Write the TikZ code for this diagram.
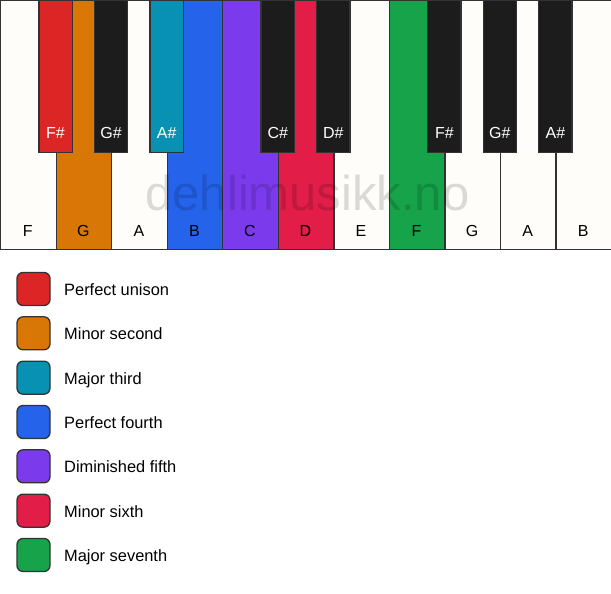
\documentclass[tikz,border=0pt]{standalone}
\usepackage{fontspec}
\setmainfont{Liberation Sans}
\definecolor{keyline}{HTML}{333333}
\definecolor{ivory}{HTML}{FEFDF9}
\definecolor{ebony}{HTML}{1C1C1C}
\definecolor{unison}{HTML}{DC2626}
\definecolor{second}{HTML}{D97706}
\definecolor{third}{HTML}{0891B2}
\definecolor{fourth}{HTML}{2563EB}
\definecolor{fifth}{HTML}{7C3AED}
\definecolor{sixth}{HTML}{E11D48}
\definecolor{seventh}{HTML}{16A34A}
\tikzset{font={\fontsize{16pt}{19pt}\selectfont},
  whitekey/.style={draw=keyline, line width=1.3pt, minimum width=55.545pt,
    minimum height=249pt, inner sep=0pt, anchor=north west},
  blackkey/.style={draw=keyline, line width=1.3pt, minimum width=33.3pt,
    minimum height=152pt, inner sep=0pt, anchor=north},
  swatch/.style={draw=keyline, line width=1.3pt, rounded corners=6pt,
    minimum size=33pt, inner sep=0pt}}

\begin{document}
\begin{tikzpicture}[x=1pt, y=-1pt]
      \useasboundingbox (0,0) rectangle (611,594);
      %white keys
      \foreach \n/\c [count=\i from 0] in {F/ivory, G/second, A/ivory, B/fourth,
          C/fifth, D/sixth, E/ivory, F/seventh, G/ivory, A/ivory, B/ivory}
	\node[whitekey, fill=\c] (w\i) at (\i*55.545,0) {};
      \foreach \n [count=\i from 0] in {F, G, A, B, C, D, E, F, G, A, B}
	\node[anchor=base, inner sep=0pt] (wl\i) at (\i*55.545+27.77,236) {\n};
      %black keys
      \foreach \n/\c/\k in {F\#/unison/1, G\#/ebony/2, A\#/third/3, C\#/ebony/5,
          D\#/ebony/6, F\#/ebony/8, G\#/ebony/9, A\#/ebony/10}
	{\node[blackkey, fill=\c] (b\k) at (\k*55.545,0) {};
	\node[anchor=base, inner sep=0pt, text=white] (bl\k) at (\k*55.545,139) {\n};}
      %watermark
      \node[anchor=base, inner sep=0pt, text opacity=0.14,
        font={\fontsize{49pt}{50pt}\selectfont}] (mark) at (307.5,210) {dehlimusikk.no};
      %legend
      \foreach \c/\t [count=\i from 0] in {unison/Perfect unison, second/Minor second,
          third/Major third, fourth/Perfect fourth, fifth/Diminished fifth,
          sixth/Minor sixth, seventh/Major seventh}
	{\node[swatch, fill=\c] (s\i) at (33.5,289+44.33*\i) {};
	\node[anchor=base west, inner sep=0pt, font={\fontsize{16.4pt}{19pt}\selectfont}]
	  (t\i) at (64,295.5+44.33*\i) {\t};}
    \end{tikzpicture}
\end{document}
